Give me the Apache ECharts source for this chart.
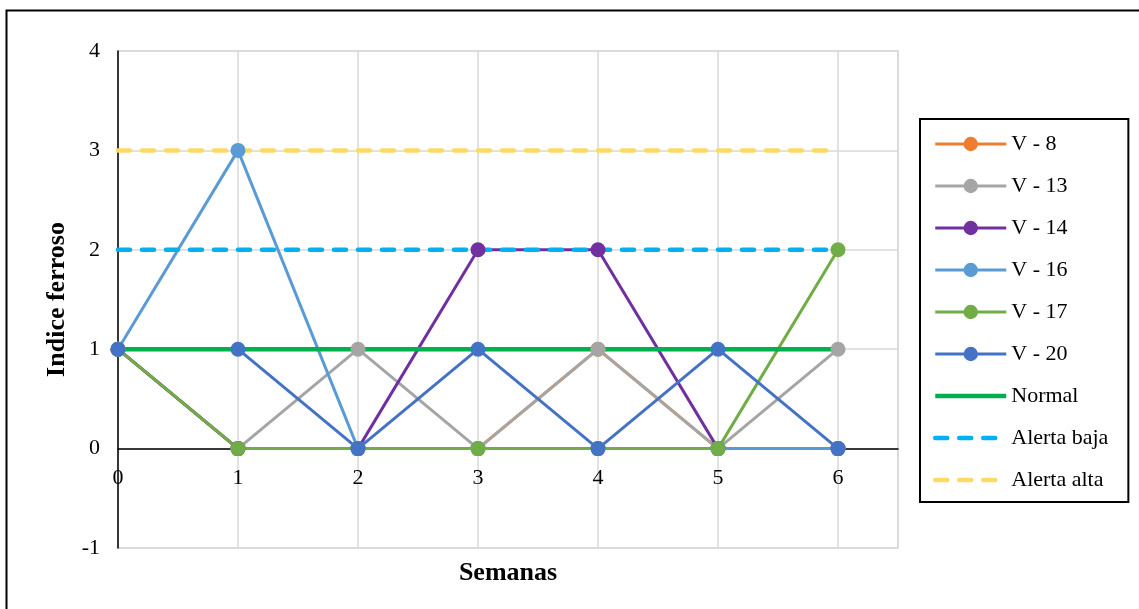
<!DOCTYPE html>
<html>
<head>
<meta charset="utf-8">
<script src="https://cdn.jsdelivr.net/npm/echarts@6/dist/echarts.min.js"></script>
<style>
  html, body { margin: 0; padding: 0; background: #fff; }
  #chart { width: 1139px; height: 609px; }
</style>
</head>
<body>
<div id="chart"></div>
<script>
// Weekly ferrous index per vehicle, with reference levels
const weeks = [0, 1, 2, 3, 4, 5, 6];
const v8  = [1, 0, 0, 0, 1, 0, 0];
const v13 = [1, 0, 1, 0, 1, 0, 1];
const v14 = [1, 0, 0, 2, 2, 0, 0];
const v16 = [1, 3, 0, 0, 0, 0, 0];
const v17 = [1, 0, 0, 0, 0, 0, 2];
const v20 = [1, 1, 0, 1, 0, 1, 0];
const normal     = [1, 1, 1, 1, 1, 1, 1];
const alertaBaja = [2, 2, 2, 2, 2, 2, 2];
const alertaAlta = [3, 3, 3, 3, 3, 3, 3];

const Y_MIN = -1, Y_MAX = 4;
const GRID = { left: 118, right: 241, top: 51, bottom: 61 };
const CHART_H = 609;

const serif = '"Liberation Serif", "Times New Roman", serif';
const pairs = (ys) => weeks.map((x, i) => [x, ys[i]]);

function vehicle(name, ys, color) {
  return {
    name, type: 'line', data: pairs(ys),
    symbol: 'circle', symbolSize: 15,
    itemStyle: { color },
    lineStyle: { color, width: 3 },
    emphasis: { disabled: true }
  };
}
function level(name, ys, color, dashed) {
  return {
    name, type: 'line', data: pairs(ys),
    symbol: 'none',
    itemStyle: { color },
    lineStyle: dashed
      ? { color, width: 4.5, type: [12, 12], cap: 'round' }
      : { color, width: 4.5 },
    emphasis: { disabled: true }
  };
}
// Reference levels show only their line in the legend
const lineOnly = (name) => ({ name, itemStyle: { color: 'rgba(0,0,0,0)', borderWidth: 0 } });

// The horizontal axis sits on y = 0, so lift it from the grid bottom by the span below zero
const plotH = CHART_H - GRID.top - GRID.bottom;
const zeroLift = plotH * (0 - Y_MIN) / (Y_MAX - Y_MIN);

const chart = echarts.init(document.getElementById('chart'));
chart.setOption({
  animation: false,
  backgroundColor: '#fff',
  textStyle: { fontFamily: serif, color: '#000' },
  graphic: [{
    type: 'rect', left: 4, top: 8,
    shape: { width: 1200, height: 700 },
    style: { fill: 'none', stroke: '#000', lineWidth: 2 },
    silent: true
  }],
  grid: Object.assign({
    outerBoundsMode: 'none',
    show: true, borderColor: '#D9D9D9', borderWidth: 1.5
  }, GRID),
  legend: {
    orient: 'vertical', left: 920, top: 119,
    padding: [14, 20, 11, 13],
    borderColor: '#000', borderWidth: 2,
    itemWidth: 71, itemHeight: 18, itemGap: 20,
    selectedMode: false,
    lineStyle: { width: 'inherit' },
    textStyle: { fontFamily: serif, fontSize: 22, color: '#000' },
    data: ['V - 8', 'V - 13', 'V - 14', 'V - 16', 'V - 17', 'V - 20',
      lineOnly('Normal'), lineOnly('Alerta baja'), lineOnly('Alerta alta')]
  },
  xAxis: {
    type: 'value', min: 0, max: 6.5, interval: 1,
    offset: -zeroLift,
    name: 'Semanas', nameLocation: 'middle', nameGap: 112,
    nameTextStyle: { fontFamily: serif, fontSize: 26, fontWeight: 'bold', color: '#000' },
    axisLine: { onZero: false, lineStyle: { color: '#000', width: 1.5 } },
    axisTick: { show: false },
    axisLabel: { showMaxLabel: false, margin: 19, fontFamily: serif, fontSize: 22, color: '#000' },
    splitLine: { show: true, lineStyle: { color: '#D9D9D9', width: 1.5 } }
  },
  yAxis: {
    type: 'value', min: Y_MIN, max: Y_MAX, interval: 1,
    name: 'Indice ferroso', nameLocation: 'middle', nameGap: 45,
    nameTextStyle: { fontFamily: serif, fontSize: 26, fontWeight: 'bold', color: '#000' },
    axisLine: { show: true, onZero: false, lineStyle: { color: '#000', width: 1.5 } },
    axisTick: { show: false },
    axisLabel: { margin: 18, fontFamily: serif, fontSize: 22, color: '#000' },
    splitLine: { show: true, lineStyle: { color: '#D9D9D9', width: 1.5 } }
  },
  series: [
    vehicle('V - 8', v8, '#ED7D31'),
    vehicle('V - 13', v13, '#A5A5A5'),
    vehicle('V - 14', v14, '#7030A0'),
    vehicle('V - 16', v16, '#5B9BD5'),
    vehicle('V - 17', v17, '#70AD47'),
    vehicle('V - 20', v20, '#4472C4'),
    level('Normal', normal, '#00B050', false),
    level('Alerta baja', alertaBaja, '#00B0F0', true),
    level('Alerta alta', alertaAlta, '#FFD966', true)
  ]
});
</script>
</body>
</html>
